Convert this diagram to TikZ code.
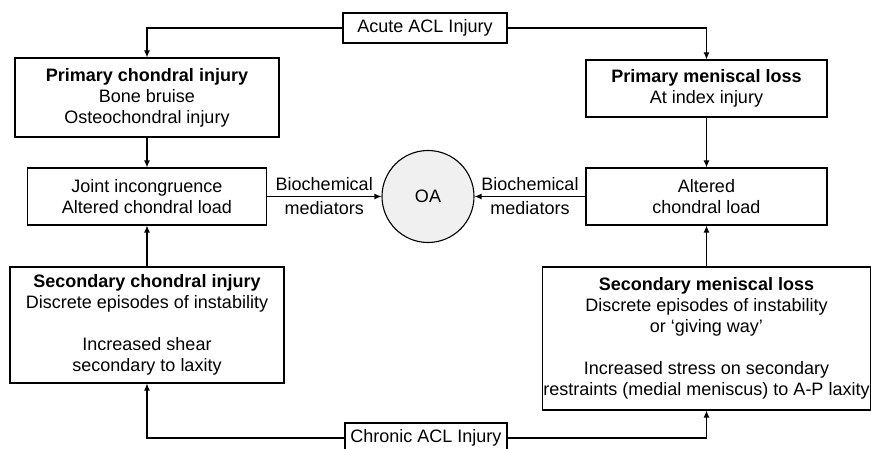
\documentclass[tikz,border=0pt]{standalone}
\usepackage{fontspec}
\setmainfont{Liberation Sans}
\usetikzlibrary{arrows.meta}

\begin{document}
\begin{tikzpicture}[x=1pt, y=-1pt,
		box/.style={draw, line width=1.1pt, align=center, inner sep=0pt,
			font=\fontsize{18}{21}\selectfont},
		lbl/.style={font=\fontsize{18}{21}\selectfont, inner sep=1pt},
		arr/.style={line width=1.1pt, -{Latex[length=7pt, width=6pt]}}]
		\useasboundingbox (0,0) rectangle (871,449);
		
		% Top and bottom
		\node[box, minimum width=164, minimum height=30] (acute) at (425,28) {Acute ACL Injury};
		\node[box, minimum width=162, minimum height=30] (chronic) at (426,438) {Chronic ACL Injury};
		
		% Left column
		\node[box, minimum width=264, minimum height=79] (pchond) at (147,97.5)
			{\textbf{Primary chondral injury}\\Bone bruise\\Osteochondral injury};
		\node[box, minimum width=239, minimum height=57] (joint) at (147,196.5)
			{Joint incongruence\\Altered chondral load};
		\node[box, minimum width=274, minimum height=116] (schond) at (147,325)
			{\textbf{Secondary chondral injury}\\Discrete episodes of instability\\[21pt]
			Increased shear\\secondary to laxity};
		
		% Right column
		\node[box, minimum width=241, minimum height=57] (pmen) at (706.5,88.5)
			{\textbf{Primary meniscal loss}\\At index injury};
		\node[box, minimum width=241, minimum height=57] (alt) at (706.5,196.5)
			{Altered\\chondral load};
		\node[box, minimum width=328, minimum height=143] (smen) at (706.5,338.5)
			{\textbf{Secondary meniscal loss}\\Discrete episodes of instability\\or `giving way'\\[21pt]
			Increased stress on secondary\\restraints (medial meniscus) to A-P laxity};
		
		% OA
		\node[draw, circle, line width=1.1pt, fill=gray!12, minimum size=92,
			font=\fontsize{18}{21}\selectfont] (oa) at (428,196.5) {OA};
		
		% Arrows
		\draw[arr] (acute.west) -| (pchond.north);
		\draw[arr] (acute.east) -| (pmen.north);
		\draw[arr] (pchond.south) -- (joint.north);
		\draw[arr] (pmen.south) -- (alt.north);
		\draw[arr] (schond.north) -- (joint.south);
		\draw[arr] (smen.north) -- (alt.south);
		\draw[arr] (chronic.west) -| (schond.south);
		\draw[arr] (chronic.east) -| (smen.south);
		\draw[arr] (joint.east) -- node[lbl, above=4pt] {Biochemical} node[lbl, below=3pt] {mediators} (oa.west);
		\draw[arr] (alt.west) -- node[lbl, above=4pt] {Biochemical} node[lbl, below=3pt] {mediators} (oa.east);
	\end{tikzpicture}
\end{document}
